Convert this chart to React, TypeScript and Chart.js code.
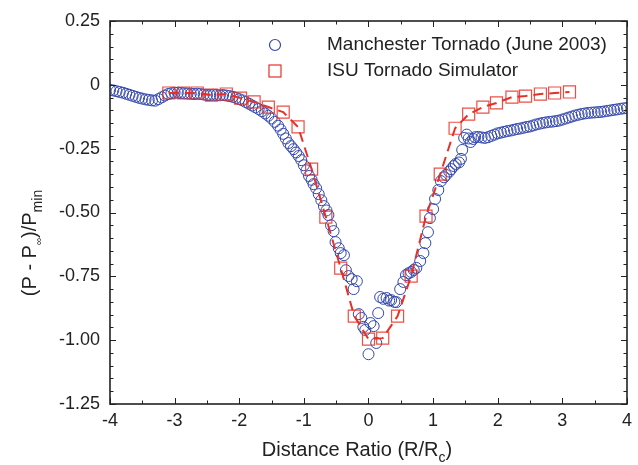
import React, { useEffect, useRef } from 'react';
import { Chart, registerables } from 'chart.js';
Chart.register(...registerables);

// Manchester Tornado (June 2003) field data
const blueX = [
  -4.00, -3.95, -3.90, -3.85, -3.80, -3.75, -3.70, -3.65, -3.60, -3.55, -3.50, -3.45, -3.40, -3.35, -3.30,
  -3.25, -3.20, -3.15, -3.10, -3.05, -3.00, -2.95, -2.90, -2.85, -2.80, -2.75, -2.70, -2.65, -2.60, -2.55,
  -2.50, -2.45, -2.40, -2.35, -2.30, -2.25, -2.20, -2.15, -2.10, -2.05, -2.00, -1.95, -1.90, -1.85, -1.80,
  -1.75, -1.70, -1.65, -1.60, -1.55, -1.50, -1.45, -1.40, -1.36, -1.32, -1.28, -1.24, -1.20, -1.16, -1.12,
  -1.08, -1.04, -1.00, -0.96, -0.92, -0.88, -0.85, -0.81, -0.77, -0.73, -0.69, -0.65, -0.62, -0.58, -0.54,
  -0.51, -0.46, -0.43, -0.38, -0.35, -0.31, -0.26, -0.23, -0.18, -0.15, -0.11, -0.08, -0.05, 0.00, 0.03,
  0.08, 0.12, 0.15, 0.18, 0.23, 0.28, 0.32, 0.35, 0.40, 0.43, 0.49, 0.54, 0.58, 0.62, 0.66,
  0.70, 0.74, 0.80, 0.85, 0.88, 0.92, 0.95, 1.00, 1.03, 1.08, 1.12, 1.17, 1.20, 1.25, 1.28,
  1.32, 1.35, 1.40, 1.43, 1.45, 1.48, 1.52, 1.55, 1.58, 1.62, 1.65, 1.70, 1.75, 1.80, 1.85,
  1.90, 1.95, 2.00, 2.05, 2.10, 2.15, 2.20, 2.25, 2.30, 2.35, 2.40, 2.45, 2.50, 2.55, 2.60,
  2.65, 2.70, 2.75, 2.80, 2.85, 2.90, 2.95, 3.00, 3.05, 3.10, 3.15, 3.20, 3.25, 3.30, 3.35,
  3.40, 3.45, 3.50, 3.55, 3.60, 3.65, 3.70, 3.75, 3.80, 3.85, 3.90, 3.95, 4.00,
];
const blueY = [
  -0.020, -0.022, -0.025, -0.028, -0.031, -0.035, -0.039, -0.043, -0.047, -0.051, -0.054, -0.057, -0.059, -0.061, -0.062,
  -0.056, -0.049, -0.042, -0.036, -0.033, -0.031, -0.031, -0.032, -0.033, -0.034, -0.035, -0.036, -0.035, -0.036, -0.038,
  -0.040, -0.040, -0.039, -0.040, -0.041, -0.040, -0.042, -0.044, -0.047, -0.051, -0.056, -0.061, -0.067, -0.074, -0.081,
  -0.088, -0.095, -0.103, -0.112, -0.121, -0.132, -0.145, -0.160, -0.175, -0.192, -0.210, -0.228, -0.240, -0.252, -0.265,
  -0.279, -0.295, -0.315, -0.335, -0.357, -0.372, -0.389, -0.405, -0.428, -0.452, -0.475, -0.492, -0.510, -0.550, -0.573,
  -0.616, -0.640, -0.659, -0.667, -0.726, -0.749, -0.761, -0.800, -0.769, -0.898, -0.913, -0.948, -0.960, -1.055, -0.933,
  -0.945, -1.011, -0.894, -0.831, -0.838, -0.835, -0.845, -0.843, -0.850, -0.851, -0.800, -0.772, -0.745, -0.738, -0.733,
  -0.725, -0.717, -0.690, -0.659, -0.620, -0.577, -0.522, -0.487, -0.447, -0.412, -0.377, -0.362, -0.353, -0.340, -0.330,
  -0.318, -0.310, -0.304, -0.290, -0.255, -0.208, -0.195, -0.210, -0.224, -0.212, -0.205, -0.204, -0.206, -0.208, -0.205,
  -0.200, -0.195, -0.190, -0.187, -0.184, -0.181, -0.179, -0.176, -0.173, -0.171, -0.168, -0.165, -0.163, -0.159, -0.155,
  -0.152, -0.149, -0.147, -0.145, -0.144, -0.142, -0.140, -0.136, -0.132, -0.128, -0.124, -0.120, -0.117, -0.114, -0.112,
  -0.110, -0.109, -0.108, -0.107, -0.106, -0.104, -0.102, -0.100, -0.098, -0.096, -0.094, -0.092, -0.091,
];

// ISU Tornado Simulator data
const redX = [
  -3.09, -2.86, -2.65, -2.43, -2.20, -1.98, -1.77, -1.55, -1.32, -1.09, -0.88, -0.66, -0.43, -0.22, 0.00,
  0.22, 0.45, 0.66, 0.89, 1.11, 1.34, 1.55, 1.77, 1.98, 2.22, 2.43, 2.66, 2.88, 3.11,
];
const redY = [
  -0.032, -0.032, -0.032, -0.040, -0.036, -0.052, -0.067, -0.087, -0.107, -0.165, -0.330, -0.518, -0.718, -0.906, -0.996,
  -0.992, -0.906, -0.749, -0.514, -0.350, -0.170, -0.115, -0.087, -0.071, -0.048, -0.044, -0.036, -0.032, -0.028,
];

const xTickValues = [-4, -3, -2, -1, 0, 1, 2, 3, 4];
const xTickLabels = ['-4', '-3', '-2', '-1', '0', '1', '2', '3', '4'];
const yTickValues = [0.25, 0, -0.25, -0.5, -0.75, -1, -1.25];
const yTickLabels = ['0.25', '0', '-0.25', '-0.50', '-0.75', '-1.00', '-1.25'];
const seriesNames = ['Manchester Tornado (June 2003)', 'ISU Tornado Simulator'];

const FONT = '"Liberation Sans", Arial, Helvetica, sans-serif';
const BLUE = 'rgb(52,72,172)';
const RED = 'rgb(232,48,38)';
const TEXT = '#222';

const decorPlugin = {
  id: 'decor',
  afterDatasetsDraw(chart: any) {
    const { ctx, chartArea: a, scales } = chart;
    const xs = scales.x;
    const ys = scales.y;
    ctx.save();
    ctx.strokeStyle = '#222';
    ctx.lineWidth = 1;
    const seg = (x1: number, y1: number, x2: number, y2: number) => {
      ctx.beginPath();
      ctx.moveTo(x1, y1);
      ctx.lineTo(x2, y2);
      ctx.stroke();
    };
    for (let i = 0; i <= 16; i++) {
      const px = Math.round(xs.getPixelForValue(-4 + i * 0.5)) + 0.5;
      const len = i % 2 === 0 ? 6 : 3.5;
      seg(px, a.bottom, px, a.bottom - len);
      seg(px, a.top, px, a.top + len);
    }
    for (let i = 0; i <= 30; i++) {
      const py = Math.round(ys.getPixelForValue(0.25 - i * 0.05)) + 0.5;
      const len = i % 5 === 0 ? 6 : 3.5;
      seg(a.left, py, a.left + len, py);
      seg(a.right, py, a.right - len, py);
    }
    ctx.lineWidth = 1.6;
    ctx.strokeRect(a.left, a.top, a.right - a.left, a.bottom - a.top);
    ctx.restore();
  },
  afterDraw(chart: any) {
    const { ctx } = chart;
    ctx.save();
    // legend
    ctx.lineWidth = 1.2;
    ctx.strokeStyle = BLUE;
    ctx.beginPath();
    ctx.arc(275, 45, 5.5, 0, Math.PI * 2);
    ctx.stroke();
    ctx.strokeStyle = RED;
    ctx.strokeRect(269, 65, 12, 12);
    ctx.fillStyle = TEXT;
    ctx.font = `19px ${FONT}`;
    ctx.textBaseline = 'middle';
    ctx.textAlign = 'left';
    ctx.fillText(seriesNames[0], 327, 45);
    ctx.fillText(seriesNames[1], 327, 71);

    // x title with subscript
    const big = `20px ${FONT}`;
    const sub = `14px ${FONT}`;
    const xParts: [string, string, number][] = [
      ['Distance Ratio (R/R', big, 0],
      ['c', sub, 6],
      [')', big, 0],
    ];
    let total = 0;
    for (const p of xParts) { ctx.font = p[1]; total += ctx.measureText(p[0]).width; }
    let cx = 357 - total / 2;
    ctx.textBaseline = 'alphabetic';
    for (const p of xParts) {
      ctx.font = p[1];
      ctx.fillText(p[0], cx, 456 + p[2]);
      cx += ctx.measureText(p[0]).width;
    }

    // y title rotated
    const yParts: [string, string, number][] = [
      ['(P - P', big, 0],
      ['\u221E', `10px ${FONT}`, 6],
      [')/P', big, 0],
      ['min', sub, 6],
    ];
    total = 0;
    for (const p of yParts) { ctx.font = p[1]; total += ctx.measureText(p[0]).width; }
    ctx.translate(36, 243);
    ctx.rotate(-Math.PI / 2);
    let cy = -total / 2;
    for (const p of yParts) {
      ctx.font = p[1];
      ctx.fillText(p[0], cy, p[2]);
      cy += ctx.measureText(p[0]).width;
    }
    ctx.restore();
  },
};

export default function App() {
  const ref = useRef<HTMLCanvasElement>(null);
  useEffect(() => {
    const blueData = blueX.map((x, i) => ({ x, y: blueY[i] }));
    const redData = redX.map((x, i) => ({ x, y: redY[i] }));
    const chart = new Chart(ref.current!, {
      type: 'scatter',
      data: {
        datasets: [
          {
            label: seriesNames[1],
            data: redData,
            showLine: true,
            borderColor: RED,
            borderWidth: 2,
            borderDash: [10, 6],
            pointStyle: 'rect',
            pointRadius: 8.5,
            pointBorderColor: 'rgba(232,48,38,0.85)',
            pointBackgroundColor: 'rgba(0,0,0,0)',
            pointBorderWidth: 1.2,
            clip: 8,
          } as any,
          {
            label: seriesNames[0],
            data: blueData,
            showLine: false,
            pointStyle: 'circle',
            pointRadius: 5.5,
            pointBorderColor: BLUE,
            pointBackgroundColor: 'rgba(0,0,0,0)',
            pointBorderWidth: 1,
            clip: 0,
          } as any,
        ],
      },
      options: {
        animation: false,
        responsive: false,
        layout: { padding: { left: 0, top: 21, right: 8, bottom: 0 } },
        plugins: { legend: { display: false }, tooltip: { enabled: false } },
        scales: {
          x: {
            type: 'linear',
            min: -4,
            max: 4,
            afterBuildTicks: (s: any) => { s.ticks = xTickValues.map((v) => ({ value: v })); },
            afterFit: (s: any) => { s.height = 61; },
            grid: { display: false, drawTicks: false },
            border: { display: false },
            ticks: {
              padding: 6,
              color: TEXT,
              font: { family: FONT, size: 18 },
              maxRotation: 0,
              autoSkip: false,
              callback: (_v: any, i: number) => xTickLabels[i],
            },
          },
          y: {
            type: 'linear',
            min: -1.25,
            max: 0.25,
            afterBuildTicks: (s: any) => { s.ticks = yTickValues.map((v) => ({ value: v })); },
            afterFit: (s: any) => { s.width = 110; },
            grid: { display: false, drawTicks: false },
            border: { display: false },
            ticks: {
              padding: 10,
              color: TEXT,
              font: { family: FONT, size: 18 },
              autoSkip: false,
              callback: (_v: any, i: number) => yTickLabels[i],
            },
          },
        },
      },
      plugins: [decorPlugin],
    } as any);
    return () => chart.destroy();
  }, []);
  return (
    <div style={{ position: 'absolute', left: 0, top: 0, width: 638, height: 465, background: '#fff' }}>
      <canvas ref={ref} width={638} height={465} style={{ display: 'block' }} />
    </div>
  );
}
